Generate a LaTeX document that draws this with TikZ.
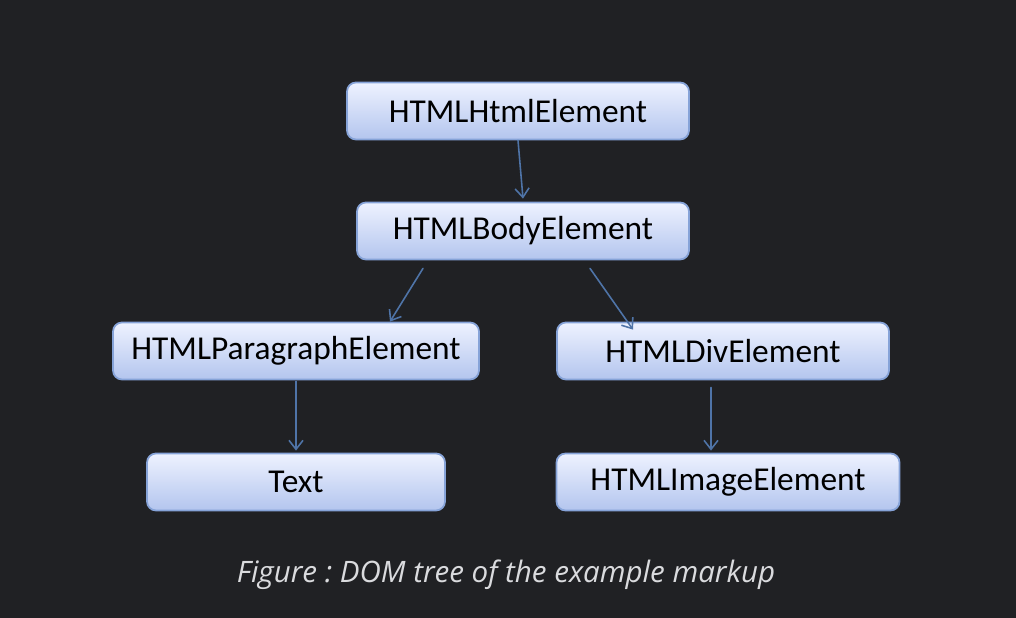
\documentclass[tikz,border=0pt]{standalone}
\usepackage{fontspec}
\usetikzlibrary{arrows.meta}
\newfontfamily\boxfont{Carlito}
\newfontfamily\capfont{Open Sans}
\definecolor{bgdark}{HTML}{202124}
\definecolor{boxline}{HTML}{86A3D8}
\definecolor{boxtop}{HTML}{EEF2FF}
\definecolor{boxbot}{HTML}{B3C5EE}
\definecolor{arrowblue}{HTML}{4F74A8}
\definecolor{captext}{HTML}{DADBDE}
\tikzset{
  elem/.style={draw=boxline, line width=0.5pt, rounded corners=0.9mm, top color=boxtop, bottom color=boxbot,
    minimum height=5.7mm, inner sep=0pt, font=\boxfont\fontsize{9.5}{11}\selectfont, text=black},
  link/.style={draw=arrowblue, line width=0.45pt, -{Straight Barb[length=0.9mm,width=1.4mm]}}
}
\begin{document}
\begin{tikzpicture}[line join=round, line cap=round]
		\fill[bgdark] (0,0) rectangle (10.16,6.18);
		\useasboundingbox (0,0) rectangle (10.16,6.18);
		% the tree
		\node[elem, minimum width=34.2mm] (html) at (5.18,5.07) {HTMLHtmlElement};
		\node[elem, minimum width=33.2mm] (body) at (5.23,3.87) {HTMLBodyElement};
		\node[elem, minimum width=36.6mm] (para) at (2.96,2.67) {HTMLParagraphElement};
		\node[elem, minimum width=33.2mm] (div) at (7.23,2.67) {HTMLDivElement};
		\node[elem, minimum width=29.8mm] (text) at (2.96,1.36) {Text};
		\node[elem, minimum width=34.3mm] (img) at (7.28,1.36) {HTMLImageElement};
		\draw[link] (html.south) -- ([yshift=0.3mm]body.north);
		\draw[link] ([xshift=-10mm,yshift=-0.8mm]body.south) -- ([xshift=9.4mm]para.north);
		\draw[link] ([xshift=6.7mm,yshift=-0.8mm]body.south) -- ([xshift=-9mm,yshift=-0.8mm]div.north);
		\draw[link] ([yshift=-0.1mm]para.south) -- ([yshift=0.2mm]text.north);
		\draw[link] ([xshift=-1.2mm,yshift=-0.7mm]div.south) -- ([xshift=-1.7mm,yshift=0.2mm]img.north);
		\node[font=\capfont\itshape\fontsize{8.4}{10}\selectfont, text=captext] (cap) at (5.06,0.43) {\frenchspacing Figure : DOM tree of the example markup};
	\end{tikzpicture}
\end{document}
